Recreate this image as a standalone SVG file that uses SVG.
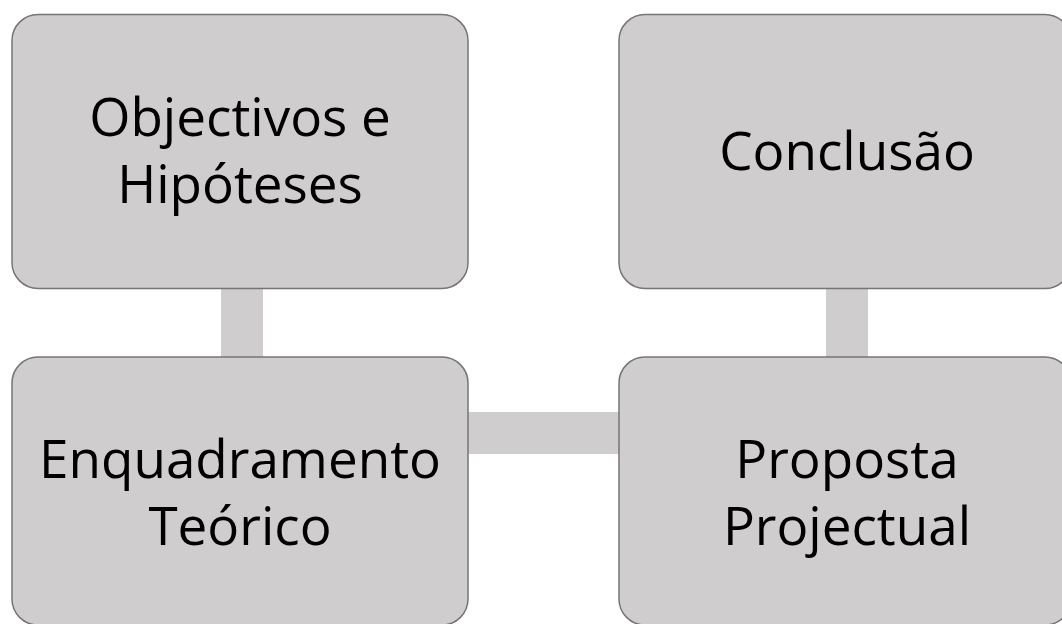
<svg xmlns="http://www.w3.org/2000/svg" width="1062" height="624" viewBox="0 0 1062 624">
<style>
.box{fill:#cfcdce;stroke:#757575;stroke-width:1.5}
.conn{fill:#cfcdce}
text{font-family:"Open Sans","Noto Sans","Liberation Sans",sans-serif;font-size:53px;fill:#000;text-anchor:middle}
</style>
<rect width="1062" height="624" fill="#ffffff"/>
<g id="connectors">
<rect class="conn" x="221" y="286" width="42" height="73"/>
<rect class="conn" x="826" y="286" width="42" height="73"/>
<rect class="conn" x="466" y="412" width="155" height="42"/>
</g>
<g id="node-objectivos">
<rect class="box" x="12" y="14.5" width="456" height="274" rx="26" ry="26"/>
<text x="240" y="136">Objectivos e</text>
<text x="240" y="203">Hipóteses</text>
</g>
<g id="node-conclusao">
<rect class="box" x="619" y="14.5" width="452" height="274" rx="26" ry="26"/>
<text x="847" y="170">Conclusão</text>
</g>
<g id="node-enquadramento">
<rect class="box" x="12" y="357" width="456" height="268" rx="26" ry="26"/>
<text x="240" y="478">Enquadramento</text>
<text x="240" y="545">Teórico</text>
</g>
<g id="node-proposta">
<rect class="box" x="619" y="357" width="452" height="268" rx="26" ry="26"/>
<text x="847" y="478">Proposta</text>
<text x="847" y="545">Projectual</text>
</g>
</svg>
